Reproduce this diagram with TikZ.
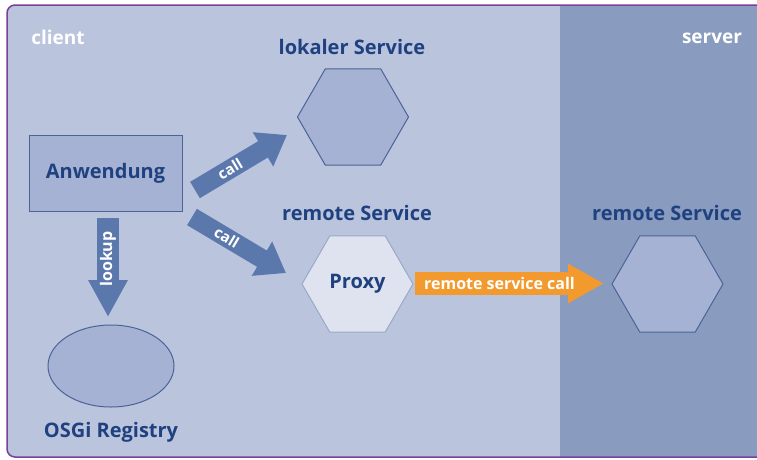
\documentclass[tikz,border=0pt]{standalone}
\usepackage{fontspec}
\setmainfont{Open Sans}
\usetikzlibrary{shapes.geometric,arrows.meta}
\definecolor{clientbg}{HTML}{BAC4DD}
\definecolor{serverbg}{HTML}{899BBE}
\definecolor{framec}{HTML}{7A3F98}
\definecolor{arrowc}{HTML}{5B78AD}
\definecolor{shapefill}{HTML}{A5B2D3}
\definecolor{shapeline}{HTML}{4B6497}
\definecolor{proxyfill}{HTML}{DEE3EF}
\definecolor{proxyline}{HTML}{9AA8C8}
\definecolor{textc}{HTML}{1F4180}
\definecolor{orangec}{HTML}{F39A2E}
\tikzset{
  lbl/.style={font=\bfseries\fontsize{20}{22}\selectfont, text=textc, inner sep=0pt},
  corner/.style={font=\bfseries\fontsize{19}{21}\selectfont, text=white, inner sep=0pt},
  hexa/.style={regular polygon, regular polygon sides=6, minimum size=111pt, inner sep=0pt, draw=shapeline, line width=1pt, fill=shapefill},
  bigarrow/.style={draw=arrowc, line width=19pt, -{Triangle[width=38pt,length=28pt]}},
  arrowtext/.style={font=\bfseries\fontsize{15}{16}\selectfont, text=white, inner sep=0pt, sloped}
}
\begin{document}
\begin{tikzpicture}[x=1pt,y=-1pt]
\useasboundingbox (0,0) rectangle (757,459);
\clip (0,0) rectangle (757,459);
\fill[white] (0,0) rectangle (757,459);
\fill[clientbg, rounded corners=8pt] (7,5) rectangle (780,457);
\fill[serverbg] (560,6) rectangle (780,457);
\draw[framec, line width=1.5pt, rounded corners=8pt] (7,5) rectangle (780,457);

\node[corner] (client) at (58,37) {client};
\node[corner] (server) at (712,38) {server};

\node[draw=shapeline, line width=1pt, fill=shapefill, minimum width=153pt, minimum height=76pt, inner sep=0pt, font=\bfseries\fontsize{20}{22}\selectfont, text=textc] (app) at (105.5,173) {Anwendung};

\node[hexa] (lok) at (353,117) {};
\node[lbl] (loklbl) at (352,47) {lokaler Service};

\node[hexa, fill=proxyfill, draw=proxyline, font=\bfseries\fontsize{20}{22}\selectfont, text=textc] (proxy) at (357.5,284) {Proxy};
\node[lbl] (remlbl) at (357,213) {remote Service};

\node[hexa] (srv) at (667.5,284) {};
\node[lbl] (srvlbl) at (667,213) {remote Service};

\node[ellipse, draw=shapeline, line width=1pt, fill=shapefill, minimum width=126pt, minimum height=82pt, inner sep=0pt] (reg) at (111,366) {};
\node[lbl] (reglbl) at (111,432) {OSGi Registry};

% connectors
\coordinate (c1s) at (195,190);
\coordinate (c1e) at (287,135);
\coordinate (c2s) at (192,217);
\coordinate (c2e) at (286,273);
\coordinate (lks) at (108,218);
\coordinate (lke) at (108,317);
\coordinate (rcs) at (415,283.5);
\coordinate (rce) at (604,283.5);

\draw[bigarrow] (c1s) -- (c1e) node[arrowtext, pos=0.38] (t1) {call};
\draw[bigarrow] (c2s) -- (c2e) node[arrowtext, pos=0.37] (t2) {call};
\draw[draw=arrowc, line width=22pt, -{Triangle[width=37pt,length=37pt]}] (lks) -- (lke);
\node[font=\bfseries\fontsize{16}{17}\selectfont, text=white, inner sep=0pt, rotate=90] (t3) at (108,259) {lookup};
\draw[draw=orangec, line width=23pt, -{Triangle[width=37pt,length=36pt]}] (rcs) -- (rce);
\node[font=\bfseries\fontsize{16}{17}\selectfont, text=white, inner sep=0pt] (t4) at (499.5,283) {remote service call};
\end{tikzpicture}
\end{document}
